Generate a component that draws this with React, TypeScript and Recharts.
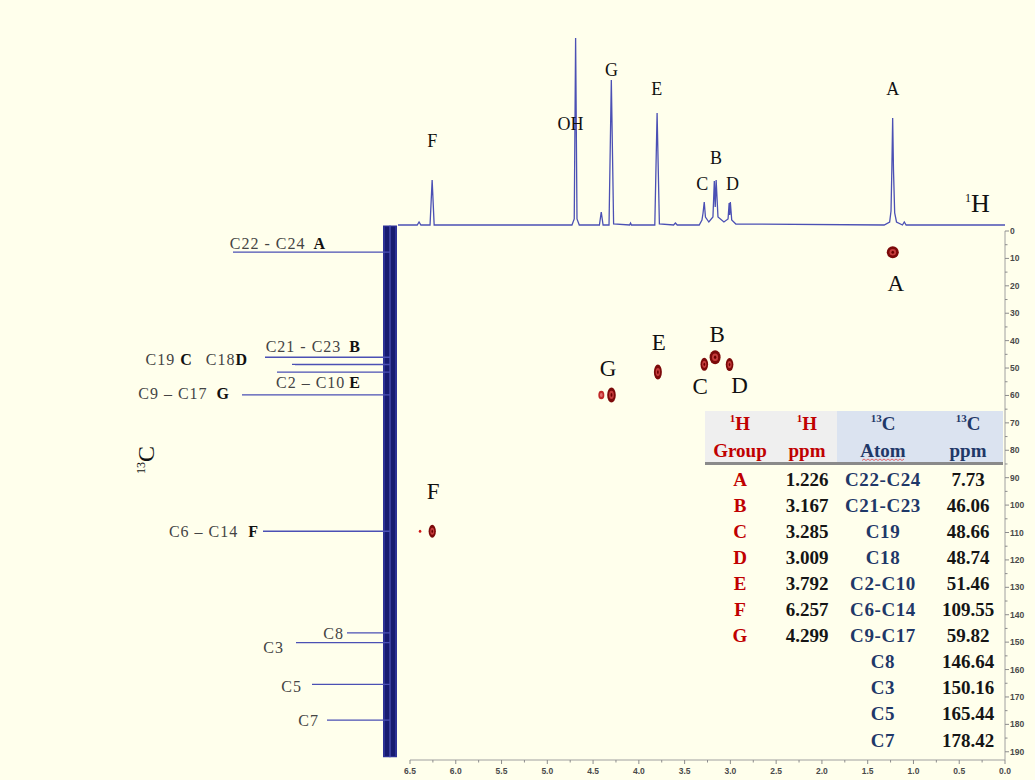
import React from 'react';
import { ScatterChart, Scatter, ComposedChart, Line, XAxis, YAxis, ReferenceArea } from 'recharts';

// ---------------- data ----------------
const groups = ['A', 'B', 'C', 'D', 'E', 'F', 'G'];
const hShift = [1.226, 3.167, 3.285, 3.009, 3.792, 6.257, 4.299];
const atoms = ['C22-C24', 'C21-C23', 'C19', 'C18', 'C2-C10', 'C6-C14', 'C9-C17', 'C8', 'C3', 'C5', 'C7'];
const cShift = [7.73, 46.06, 48.66, 48.74, 51.46, 109.55, 59.82, 146.64, 150.16, 165.44, 178.42];

// small satellite contours (beside G and F)
const minorH = [4.41, 6.39];
const minorC = [59.82, 109.55];

// 1H projection trace (ppm, intensity)
const hTracePpm = [6.63, 6.42, 6.40, 6.38, 6.28, 6.257, 6.235, 4.73, 4.705, 4.69, 4.675, 4.65, 4.43, 4.41, 4.39, 4.325, 4.30, 4.275, 4.10, 4.09, 4.08, 3.825, 3.80, 3.775, 3.62, 3.60, 3.58, 3.34, 3.31, 3.298, 3.285, 3.272, 3.235, 3.19, 3.175, 3.165, 3.155, 3.135, 3.07, 3.025, 3.013, 3.007, 3.0, 2.985, 2.94, 1.32, 1.26, 1.245, 1.236, 1.227, 1.218, 1.205, 1.185, 1.12, 1.10, 1.08, 0.0];
const hTraceInt = [0, 0, 3, 0, 0, 45, 0, 0, 6, 187, 6, 0, 0, 13, 0, 0, 145, 1, 0, 2, 0, 0, 112, 1, 0, 2, 0, 0, 5, 12, 23, 8, 3, 8, 44, 18, 45, 8, 3, 6, 22, 10, 23, 5, 1, 0, 3, 14, 55, 107, 55, 12, 3, 0, 3, 0, 0];

// 13C projection peak heights (same order as atoms / cShift)
const cPeakHeight = [157, 125, 98, 95, 113, 127, 148, 43, 94, 78, 63];

// 1H peak labels
const hLabelText = ['F', 'OH', 'G', 'E', 'B', 'C', 'D', 'A'];
const hLabelPpm = [6.257, 4.69, 4.299, 3.792, 3.167, 3.285, 3.009, 1.226];

// 13C side labels
const cLabelParts: string[][] = [
  ['C22 - C24', 'A'], ['C21 - C23', 'B'], ['C19', 'C', 'C18', 'D'], ['C2 – C10', 'E'],
  ['C6 – C14', 'F'], ['C9 – C17', 'G'], ['C8'], ['C3'], ['C5'], ['C7'],
];
const cLabelShift = [7.73, 46.06, 48.70, 51.46, 109.55, 59.82, 146.64, 150.16, 165.44, 178.42];

// axis ticks
const xTicks = [6.5, 6.25, 6.0, 5.75, 5.5, 5.25, 5.0, 4.75, 4.5, 4.25, 4.0, 3.75, 3.5, 3.25, 3.0, 2.75, 2.5, 2.25, 2.0, 1.75, 1.5, 1.25, 1.0, 0.75, 0.5, 0.25, 0.0];
const yTicks = [0, 5, 10, 15, 20, 25, 30, 35, 40, 45, 50, 55, 60, 65, 70, 75, 80, 85, 90, 95, 100, 105, 110, 115, 120, 125, 130, 135, 140, 145, 150, 155, 160, 165, 170, 175, 180, 185, 190];

// ---------------- styles / layout ----------------
const W = 1035;
const H = 780;
const SERIF = '"Liberation Serif", "Times New Roman", serif';
const SANS = '"Liberation Sans", Arial, sans-serif';
const BG = '#FFFFEC';
const RED = '#c00000';
const NAVY = '#1f3868';
const TRACE = '#4b50b4';

const peakSize: Record<string, [number, number]> = {
  A: [6, 6], B: [5.5, 7], C: [3.8, 6.5], D: [3.8, 6.5], E: [4, 7.5], F: [3.6, 6.5], G: [4.3, 7.5],
};
const peakLabelOffset: Record<string, [number, number]> = {
  A: [3, 31], B: [2, -23], C: [-4, 22], D: [10, 21], E: [1, -30], F: [1, -40], G: [-3.5, -26],
};
const hLabelLayout: Record<string, [number, number]> = {
  F: [0, 84], OH: [-5, 101], G: [0, 155], E: [-1, 136], B: [1, 67], C: [-2, 41], D: [3, 41], A: [0, 136],
};
// [distance of right edge from band centre, dy, gaps between parts]
const cLabelLayout: [number, number, number[]][] = [
  [65, -3, [0, 8]], [30, -5, [0, 8]], [143, 1, [0, 5, 14, 0]], [30, 16, [0, 4]],
  [132, 6, [0, 10]], [161, 4, [0, 9]], [46, 6, [0]], [106, 10, [0]], [88, 8, [0]], [71, 6, [0]],
];

// ---------------- derived tables ----------------
const crossPeaks = groups.map((g, k) => ({ g, h: hShift[k], c: cShift[k] }));
const minorPeaks = minorH.map((h, k) => ({ g: k === 0 ? 'g' : 'f', h, c: minorC[k] }));
const hTrace = hTracePpm.map((ppm, k) => ({ ppm, v: hTraceInt[k] }));
const hLabels = hLabelText.map((t, k) => ({ t, ppm: hLabelPpm[k], v: hLabelLayout[t][1] }));

const order = cShift.map((_, k) => k).sort((a, b) => cShift[a] - cShift[b]);
const cTrace: { i: number; c: number }[] = [{ i: 0, c: -2 }];
order.forEach((k) => {
  cTrace.push({ i: 0, c: cShift[k] }, { i: cPeakHeight[k], c: cShift[k] }, { i: 0, c: cShift[k] });
});
cTrace.push({ i: 0, c: 192 });
const cLabels = cLabelParts.map((_, k) => ({ k, i: cLabelLayout[k][0], c: cLabelShift[k] }));

// ---------------- shapes ----------------
const CrossPeak = (p: any) => {
  const { cx, cy, payload } = p;
  const [rx, ry] = peakSize[payload.g];
  return (
    <g>
      <ellipse cx={cx} cy={cy} rx={rx} ry={ry} fill="#7c0a0a" />
      <ellipse cx={cx} cy={cy} rx={rx * 0.55} ry={ry * 0.55} fill="#c63c3c" />
      <ellipse cx={cx} cy={cy} rx={rx * 0.22} ry={ry * 0.25} fill="#6a0000" />
    </g>
  );
};
const MinorPeak = (p: any) => {
  const { cx, cy, payload } = p;
  if (payload.g === 'g') {
    return (
      <g>
        <ellipse cx={cx} cy={cy} rx={3} ry={4.3} fill="#c02828" />
        <ellipse cx={cx} cy={cy} rx={1.4} ry={2} fill="#e07070" />
      </g>
    );
  }
  return <ellipse cx={cx} cy={cy} rx={1.3} ry={1.6} fill="#d01818" />;
};
const CrossLabel = (p: any) => {
  const { cx, cy, payload } = p;
  const [dx, dy] = peakLabelOffset[payload.g];
  return (
    <text x={cx + dx} y={cy + dy} textAnchor="middle" dominantBaseline="central" fontFamily={SERIF} fontSize={23} fill="#111">
      {payload.g}
    </text>
  );
};
const HLabel = (p: any) => {
  const { cx, cy, payload } = p;
  const dx = hLabelLayout[payload.t][0];
  return (
    <text x={cx + dx} y={cy} textAnchor="middle" dominantBaseline="central" fontFamily={SERIF} fontSize={18} fill="#111">
      {payload.t}
    </text>
  );
};
const CLabel = (p: any) => {
  const { cx, cy, payload } = p;
  const parts = cLabelParts[payload.k];
  const [, dy, gaps] = cLabelLayout[payload.k];
  return (
    <text x={cx} y={cy + dy} textAnchor="end" fontFamily={SERIF} fontSize={16}>
      {parts.map((s, j) => {
        const letter = s.length === 1;
        return (
          <tspan key={j} dx={gaps[j] || 0} fill={letter ? '#111' : '#444'} fontWeight={letter ? 700 : 400} letterSpacing={letter ? 0 : 1}>
            {s}
          </tspan>
        );
      })}
    </text>
  );
};

const XTick = (props: any) => {
  const { x, y, payload } = props;
  const v = payload.value as number;
  const major = Math.abs(v * 2 - Math.round(v * 2)) < 1e-6;
  return (
    <g>
      <line x1={x} x2={x} y1={y} y2={y + (major ? 4 : 2.5)} stroke="#8c8c8c" strokeWidth={1} />
      {major && (
        <text x={x} y={y + 13.5} textAnchor="middle" fontFamily={SANS} fontSize={8.5} fontWeight={700} fill="#4a4a4a">
          {v.toFixed(1)}
        </text>
      )}
    </g>
  );
};
const YTick = (props: any) => {
  const { x, y, payload } = props;
  const v = payload.value as number;
  const major = v % 10 === 0;
  return (
    <g>
      <line x1={x} x2={x + (major ? 4 : 2.5)} y1={y} y2={y} stroke="#8c8c8c" strokeWidth={1} />
      {major && (
        <text x={x + 5} y={y + 3} textAnchor="start" fontFamily={SANS} fontSize={8.5} fontWeight={700} fill="#4a4a4a">
          {v}
        </text>
      )}
    </g>
  );
};

// ---------------- table overlay ----------------
const colX = [740, 807, 883, 968];
const rowY0 = 479;
const rowDY = 26.1;

function Table() {
  const wave: string[] = [];
  for (let x = 862; x <= 904; x += 2) wave.push(`${x},${459 + ((x / 2) % 2 === 0 ? 0 : 1.5)}`);
  return (
    <g fontFamily={SERIF} fontWeight={700} fontSize={19}>
      <rect x={705} y={411} width={132} height={51} fill="#efefef" />
      <rect x={837} y={411} width={166} height={51} fill="#dbe3f0" />
      <line x1={705} x2={1003} y1={463.5} y2={463.5} stroke="#8a8a8a" strokeWidth={3} />
      <text x={colX[0]} y={423} textAnchor="middle" dominantBaseline="central" fill={RED}>
        <tspan fontSize={11} dy={-5}>1</tspan><tspan dy={5}>H</tspan>
      </text>
      <text x={colX[1]} y={423} textAnchor="middle" dominantBaseline="central" fill={RED}>
        <tspan fontSize={11} dy={-5}>1</tspan><tspan dy={5}>H</tspan>
      </text>
      <text x={colX[2]} y={423} textAnchor="middle" dominantBaseline="central" fill={NAVY}>
        <tspan fontSize={11} dy={-5}>13</tspan><tspan dy={5}>C</tspan>
      </text>
      <text x={colX[3]} y={423} textAnchor="middle" dominantBaseline="central" fill={NAVY}>
        <tspan fontSize={11} dy={-5}>13</tspan><tspan dy={5}>C</tspan>
      </text>
      <text x={colX[0]} y={450} textAnchor="middle" dominantBaseline="central" fill={RED}>Group</text>
      <text x={colX[1]} y={450} textAnchor="middle" dominantBaseline="central" fill={RED}>ppm</text>
      <text x={colX[2]} y={450} textAnchor="middle" dominantBaseline="central" fill={NAVY}>Atom</text>
      <polyline points={wave.join(' ')} fill="none" stroke="#e04848" strokeWidth={0.8} />
      <text x={colX[3]} y={450} textAnchor="middle" dominantBaseline="central" fill={NAVY}>ppm</text>
      {atoms.map((a, k) => {
        const y = rowY0 + k * rowDY;
        return (
          <g key={a}>
            {k < groups.length && (
              <text x={colX[0]} y={y} textAnchor="middle" dominantBaseline="central" fill={RED}>{groups[k]}</text>
            )}
            {k < hShift.length && (
              <text x={colX[1]} y={y} textAnchor="middle" dominantBaseline="central" fill="#151515">{hShift[k].toFixed(3)}</text>
            )}
            <text x={colX[2]} y={y} textAnchor="middle" dominantBaseline="central" fill={NAVY} letterSpacing={0.6}>{a}</text>
            <text x={colX[3]} y={y} textAnchor="middle" dominantBaseline="central" fill="#151515">{cShift[k].toFixed(2)}</text>
          </g>
        );
      })}
    </g>
  );
}

export default function App() {
  return (
    <div style={{ position: 'fixed', left: 0, top: 0, width: W, height: H, background: BG, overflow: 'hidden' }}>
      {/* 2D HSQC map */}
      <div style={{ position: 'absolute', left: 0, top: 0 }}>
        <ScatterChart width={W} height={H} margin={{ top: 231, right: 0, bottom: 0, left: 410 }}>
          <XAxis type="number" dataKey="h" domain={[0, 6.5]} reversed ticks={xTicks} interval={0} tick={XTick}
            tickLine={false} tickSize={0} tickMargin={0} axisLine={{ stroke: '#a0a0a0' }} height={20} allowDataOverflow />
          <YAxis type="number" dataKey="c" orientation="right" domain={[0, 193]} reversed ticks={yTicks} interval={0} tick={YTick}
            tickLine={false} tickSize={0} tickMargin={0} axisLine={{ stroke: '#a0a0a0' }} width={30} allowDataOverflow />
          <Scatter data={minorPeaks} shape={MinorPeak} isAnimationActive={false} />
          <Scatter data={crossPeaks} shape={CrossPeak} isAnimationActive={false} />
          <Scatter data={crossPeaks} shape={CrossLabel} isAnimationActive={false} />
        </ScatterChart>
      </div>

      {/* 1H projection on top */}
      <div style={{ position: 'absolute', left: 0, top: 0 }}>
        <ComposedChart width={W} height={230} data={hTrace} margin={{ top: 38, right: 30, bottom: 5, left: 398 }}>
          <XAxis hide type="number" dataKey="ppm" domain={[0, 6.63]} reversed />
          <YAxis hide type="number" domain={[0, 187]} />
          <Line dataKey="v" type="linear" dot={false} stroke={TRACE} strokeWidth={1.3} isAnimationActive={false} />
          <Scatter data={hLabels} dataKey="v" shape={HLabel} isAnimationActive={false} />
        </ComposedChart>
      </div>

      {/* 13C projection on the left */}
      <div style={{ position: 'absolute', left: 0, top: 0 }}>
        <ComposedChart width={W} height={H} data={cTrace} margin={{ top: 225.5, right: 635, bottom: 20, left: 190 }}>
          <XAxis hide type="number" dataKey="i" domain={[-10, 200]} reversed />
          <YAxis hide type="number" domain={[-2, 193]} reversed />
          <ReferenceArea x1={-7} x2={7} y1={-2} y2={192} fill="#2c3196" fillOpacity={1} stroke="none" />
          <ReferenceArea x1={-5} x2={5} y1={-1.5} y2={191.5} fill="#171b70" fillOpacity={1} stroke="none" />
          <Line dataKey="c" type="linear" dot={false} stroke={TRACE} strokeWidth={1.3} isAnimationActive={false} />
          <Scatter data={cLabels} dataKey="c" shape={CLabel} isAnimationActive={false} />
        </ComposedChart>
      </div>

      {/* annotations + table */}
      <svg width={W} height={H} style={{ position: 'absolute', left: 0, top: 0, pointerEvents: 'none' }}>
        <text x={965} y={212} fontFamily={SERIF} fill="#111">
          <tspan fontSize={12} dy={-10}>1</tspan>
          <tspan fontSize={26} dy={10}>H</tspan>
        </text>
        <text transform="translate(154,460) rotate(-90)" textAnchor="middle" fontFamily={SERIF} fill="#111">
          <tspan fontSize={12} dy={-9}>13</tspan>
          <tspan fontSize={24} dy={9}>C</tspan>
        </text>
        <Table />
      </svg>
    </div>
  );
}
